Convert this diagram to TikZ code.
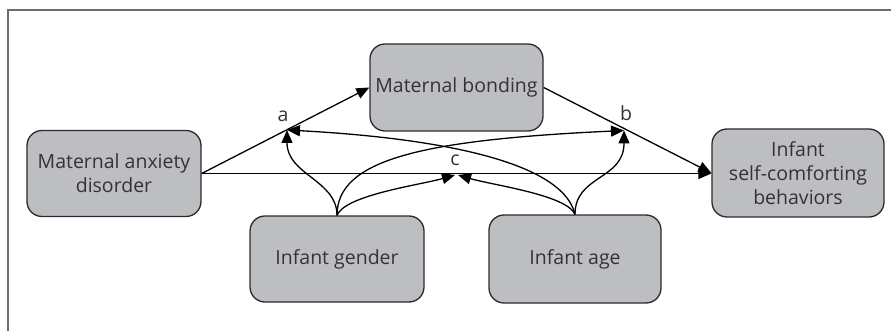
\documentclass[tikz,border=0pt]{standalone}
\usepackage{fontspec}
\setmainfont{Open Sans}
\usetikzlibrary{arrows.meta}
\definecolor{boxfill}{HTML}{BDBEC2}
\definecolor{boxline}{HTML}{2B2B2B}
\definecolor{txt}{HTML}{333333}
\definecolor{framec}{HTML}{6E6E6E}
\tikzset{
  var/.style={draw=boxline, line width=1.3pt, fill=boxfill, rounded corners=15pt,
    minimum width=#1, minimum height=86pt, align=center, text=txt, inner sep=0pt,
    font=\fontsize{19.5}{24}\selectfont},
  var/.default=174pt,
  conn/.style={line width=1.3pt, draw=black, -{Triangle[length=13pt,width=11pt]}},
  lbl/.style={text=txt, font=\fontsize{19.5}{21}\selectfont, anchor=base, inner sep=0pt}
}
\begin{document}
\begin{tikzpicture}[x=1pt,y=-1pt]
\useasboundingbox (0,0) rectangle (891,331);
\draw[framec, line width=1.6pt] (8,331) -- (8,10) -- (891,10);

\node[var] (anx) at (114,173.5) {Maternal anxiety\\disorder};
\node[var=173pt, minimum height=87pt] (bond) at (456.5,87.5) {Maternal bonding};
\node[var=172pt, minimum height=88pt] (inf) at (798,173) {Infant\\self-comforting\\behaviors};
\node[var] (gen) at (337,259) {Infant gender};
\node[var=172pt, minimum height=88pt] (age) at (575,259) {Infant age};

\coordinate (a) at (287,130);
\coordinate (b) at (624,130.5);
\coordinate (cl) at (455,175);
\coordinate (cr) at (458,175);

\draw[conn] (anx.east) -- (bond.west);
\draw[conn] (bond.east) -- (inf.west);
\draw[conn] (anx.east) -- (anx.east -| inf.west);

\draw[conn] (gen.north) .. controls (337,180) and (287,175) .. (a);
\draw[conn] (gen.north) .. controls (337,160) and (420,140) .. (b);
\draw[conn] (gen.north) .. controls (345,195) and (420,185) .. (cl);
\draw[conn] (age.north) .. controls (567,195) and (492,185) .. (cr);
\draw[conn] (age.north) .. controls (575,175) and (624,180) .. (b);
\draw[conn] (age.north) .. controls (560,150) and (380,135) .. (a);

\node[lbl] (la) at (283,122) {a};
\node[lbl] (lb) at (626,121) {b};
\node[lbl] (lc) at (455,166) {c};
\end{tikzpicture}
\end{document}
